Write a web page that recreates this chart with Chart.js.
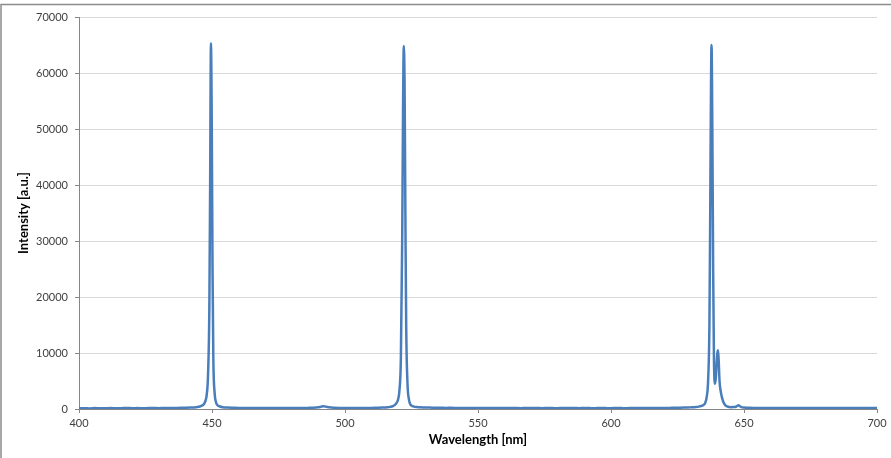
<!DOCTYPE html>
<html>
<head>
<meta charset="utf-8">
<script src="https://cdn.jsdelivr.net/npm/chart.js@4/dist/chart.umd.min.js"></script>
<style>
  html, body { margin: 0; padding: 0; background: #fff; }
  #wrap { position: relative; width: 891px; height: 458px; }
</style>
</head>
<body>
<div id="wrap"><canvas id="c" width="891" height="458"></canvas></div>
<script>
const wavelengths = [
  400,402,404,406,408,410,412,414,416,418,420,422,424,426,428,430,432,434,436,438,440,442,444,445,446,447,447.5,448,448.5,449,449.3,449.6,449.9,450.2,450.5,451,451.5,452,453,454,456,458,460,462,
  464,466,468,470,472,474,476,478,480,482,484,486,488,490,491,492,493,494,496,498,500,502,504,506,508,510,512,514,516,517,518,519,520,520.5,521,521.5,521.8,522.1,522.4,522.7,523,523.5,524,524.5,525,526,527,528,530,532,534,536,538,540,542,544,546,
  548,550,552,554,556,558,560,562,564,566,568,570,572,574,576,578,580,582,584,586,588,590,592,594,596,598,600,602,604,606,608,610,612,614,616,618,620,622,624,626,628,630,632,633,634,635,635.5,636,636.5,637,637.3,637.6,637.8,638.1,638.4,638.7,639.1,639.4,639.7,640,640.25,640.5,640.8,641.2,641.6,642,642.5,643,644,645,646,647,648,648.5,649,650,652,
  654,656,658,660,662,664,666,668,670,672,674,676,678,680,682,684,686,688,690,692,694,696,698,700
];
const intensity = [
  120,150,110,160,130,140,170,120,150,180,140,160,130,170,190,150,180,200,170,210,230,260,320,400,550,900,1400,2500,6000,18000,40000,65300,52000,25000,9000,2800,1200,700,450,330,260,230,200,180,
  190,170,180,160,190,170,160,180,170,190,180,200,230,320,420,480,400,300,220,190,180,170,190,180,200,190,220,250,300,380,520,850,1800,3500,9000,30000,52000,64800,58000,35000,15000,4500,1800,900,600,420,350,300,270,250,230,220,200,210,190,200,180,
  190,170,180,160,180,170,160,180,170,150,170,160,180,150,170,160,150,170,160,180,150,170,160,150,170,160,150,170,160,150,170,160,170,180,170,190,180,200,210,230,260,290,350,420,550,800,1200,2200,5000,15000,35000,58000,65000,50000,25000,9000,4500,5500,8000,10000,10500,8500,5000,3300,2300,1600,1000,650,400,330,350,400,650,500,350,280,220,
  190,170,200,180,160,190,170,160,180,170,190,160,180,170,190,160,180,170,190,160,180,170,190,180
];
const yTicks = [0,10000,20000,30000,40000,50000,60000,70000];
const xTicks = [400,450,500,550,600,650,700];

const points = wavelengths.map((w, i) => ({ x: w, y: intensity[i] }));

const framePlugin = {
  id: 'frame',
  afterDraw(chart) {
    const ctx = chart.ctx;
    ctx.save();
    ctx.strokeStyle = '#8c8c8c';
    ctx.lineWidth = 1.5;
    ctx.beginPath();
    ctx.moveTo(1, 458);
    ctx.lineTo(1, 4.5);
    ctx.lineTo(891, 4.5);
    ctx.stroke();
    ctx.restore();
  }
};

const tickFont = { family: 'Lato, "Open Sans", sans-serif', size: 11 };
const titleFont = { family: 'Lato, "Open Sans", sans-serif', size: 13, weight: 'bold' };

new Chart(document.getElementById('c'), {
  type: 'line',
  data: {
    datasets: [{
      data: points,
      borderColor: '#4a7ebb',
      borderWidth: 2.5,
      pointRadius: 0,
      fill: false,
      cubicInterpolationMode: 'monotone'
    }]
  },
  options: {
    responsive: false,
    animation: false,
    events: [],
    layout: { padding: { left: 0, right: 14, top: 17, bottom: 0 } },
    plugins: { legend: { display: false }, tooltip: { enabled: false } },
    scales: {
      x: {
        type: 'linear',
        min: 400, max: 700,
        afterBuildTicks(scale) { scale.ticks = xTicks.map(v => ({ value: v })); },
        afterFit(scale) { scale.height = 49; },
        grid: { drawOnChartArea: false, color: '#868686', tickLength: 4 },
        border: { color: '#868686', width: 1 },
        ticks: { font: tickFont, color: '#404040', padding: 4, maxRotation: 0 },
        title: { display: true, text: 'Wavelength [nm]', font: titleFont, color: '#000', padding: { top: 0, bottom: 10 } }
      },
      y: {
        type: 'linear',
        min: 0, max: 70000,
        afterBuildTicks(scale) { scale.ticks = yTicks.map(v => ({ value: v })); },
        afterFit(scale) { scale.width = 79; },
        grid: { color: '#d9d9d9', tickLength: 4, tickColor: '#868686' },
        border: { color: '#868686', width: 1 },
        ticks: { font: tickFont, color: '#404040', padding: 7, callback: v => String(v) },
        title: { display: true, text: 'Intensity [a.u.]', font: titleFont, color: '#000', padding: { top: 16, bottom: 0 } }
      }
    }
  },
  plugins: [framePlugin]
});
</script>
</body>
</html>
